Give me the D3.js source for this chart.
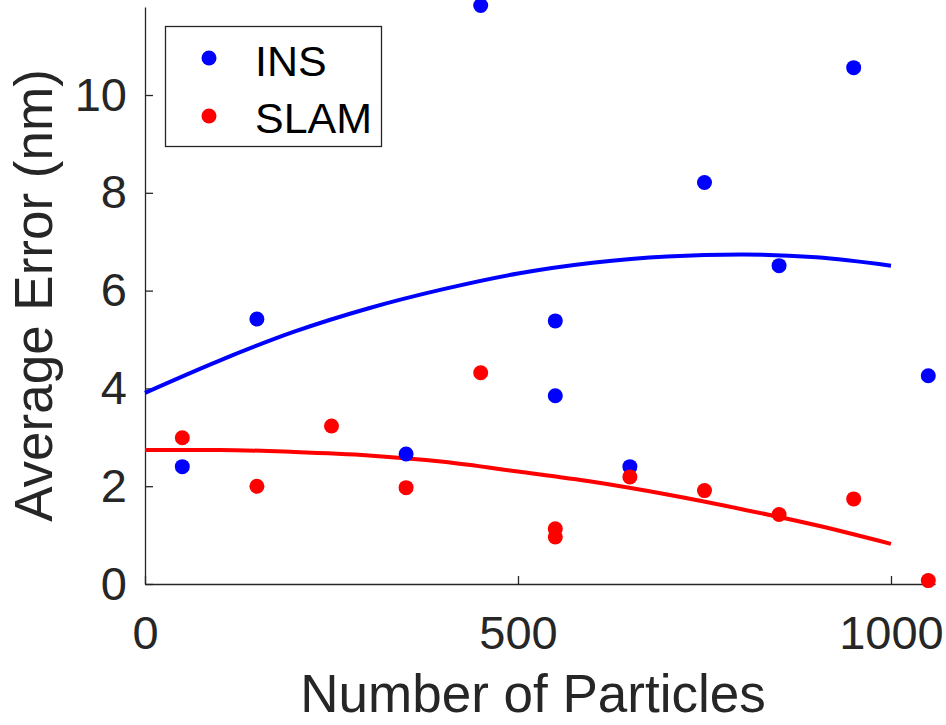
<!DOCTYPE html>
<html>
<head>
<meta charset="utf-8">
<script src="https://cdn.jsdelivr.net/npm/d3@7"></script>
<style>
  body { margin: 0; background: #fff; }
  svg { display: block; font-family: "Liberation Sans", Arial, sans-serif; }
</style>
</head>
<body>
<script>
// measured points (INS at 250 sits above the top of the axes, so it is not shown)
const insParticles = [50, 150, 350, 450, 550, 550, 650, 750, 850, 950, 1050];
const insError = [2.40, 5.42, 2.66, 11.83, 5.38, 3.85, 2.40, 8.21, 6.51, 10.56, 4.26];

const slamParticles = [50, 150, 250, 350, 450, 550, 550, 650, 750, 850, 950, 1050];
const slamError = [2.99, 2.00, 3.23, 1.97, 4.32, 1.13, 0.96, 2.19, 1.91, 1.42, 1.74, 0.07];

// fitted trend lines
const fitParticles = [0, 100, 200, 300, 400, 500, 600, 700, 800, 900, 1000];
const insFit = [3.91, 4.57, 5.16, 5.64, 6.03, 6.35, 6.57, 6.70, 6.74, 6.68, 6.51];
const slamFit = [2.74, 2.74, 2.70, 2.63, 2.50, 2.30, 2.09, 1.83, 1.53, 1.20, 0.82];

const xTicks = [0, 500, 1000];
const yTicks = [0, 2, 4, 6, 8, 10];
const legendLabels = ["INS", "SLAM"];
const colors = ["#0000ff", "#ff0000"];

const width = 946, height = 725;
const margin = {top: 7, right: 11, bottom: 141, left: 145};
const axisColor = "#262626";

const svg = d3.select("body").append("svg")
    .attr("width", width)
    .attr("height", height);

const x = d3.scaleLinear()
    .domain([0, 1059])
    .range([margin.left, width - margin.right]);

const y = d3.scaleLinear()
    .domain([0, 11.8])
    .range([height - margin.bottom, margin.top]);

// axes
const xAxis = svg.append("g")
    .attr("transform", `translate(0,${y(0)})`)
    .call(d3.axisBottom(x).tickValues(xTicks).tickFormat(d3.format("d"))
        .tickSizeInner(-8).tickSizeOuter(0).tickPadding(32));

const yAxis = svg.append("g")
    .attr("transform", `translate(${x(0)},0)`)
    .call(d3.axisLeft(y).tickValues(yTicks).tickFormat(d3.format("d"))
        .tickSizeInner(-8).tickSizeOuter(0).tickPadding(18));

[xAxis, yAxis].forEach(g => {
  g.select(".domain").attr("stroke", axisColor).attr("stroke-width", 1.3);
  g.selectAll(".tick line").attr("stroke", axisColor).attr("stroke-width", 1.3);
  g.selectAll(".tick text")
      .attr("fill", axisColor)
      .style("font-size", "47px")
      .style("font-family", "'Liberation Sans', Arial, sans-serif");
});

// axis titles
svg.append("text")
    .attr("x", 533)
    .attr("y", 712)
    .attr("text-anchor", "middle")
    .attr("fill", axisColor)
    .style("font-size", "53px")
    .text("Number of Particles");

svg.append("text")
    .attr("transform", `translate(52,${(y(0) + margin.top) / 2}) rotate(-90)`)
    .attr("text-anchor", "middle")
    .attr("fill", axisColor)
    .style("font-size", "53px")
    .text("Average Error (nm)");

// fit lines
const line = d3.line()
    .x(d => x(d[0]))
    .y(d => y(d[1]))
    .curve(d3.curveMonotoneX);

[insFit, slamFit].forEach((vals, i) => {
  svg.append("path")
      .datum(fitParticles.map((p, j) => [p, vals[j]]))
      .attr("fill", "none")
      .attr("stroke", colors[i])
      .attr("stroke-width", 4)
      .attr("d", line);
});

// scatter points
svg.append("g").selectAll("circle")
    .data(insParticles.map((p, j) => [p, insError[j]]))
    .enter()
    .append("circle")
    .attr("cx", d => x(d[0]))
    .attr("cy", d => y(d[1]))
    .attr("r", 7.5)
    .attr("fill", colors[0]);

svg.append("g").selectAll("circle")
    .data(slamParticles.map((p, j) => [p, slamError[j]]))
    .enter()
    .append("circle")
    .attr("cx", d => x(d[0]))
    .attr("cy", d => y(d[1]))
    .attr("r", 7.5)
    .attr("fill", colors[1]);

// legend
const legend = svg.append("g");
legend.append("rect")
    .attr("x", 165.5)
    .attr("y", 26.5)
    .attr("width", 216)
    .attr("height", 120)
    .attr("fill", "#fff")
    .attr("stroke", "#262626")
    .attr("stroke-width", 1.3);

legendLabels.forEach((lab, i) => {
  legend.append("circle")
      .attr("cx", 209)
      .attr("cy", 58 + i * 58)
      .attr("r", 7.5)
      .attr("fill", colors[i]);
  legend.append("text")
      .attr("x", 255)
      .attr("y", 76 + i * 57)
      .attr("fill", "#000")
      .style("font-size", "43px")
      .text(lab);
});
</script>
</body>
</html>
